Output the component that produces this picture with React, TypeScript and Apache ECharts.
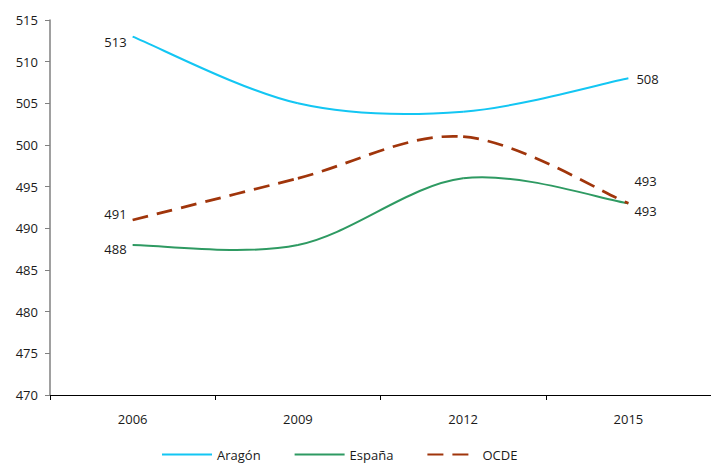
import React, { useEffect, useRef } from "react";
import * as echarts from "echarts";

const categories = ["2006", "2009", "2012", "2015"];
const aragon = [513, 505, 504, 508];
const espana = [488, 488, 496, 493];
const ocde = [491, 496, 501, 493];

const FONT = "'Open Sans', 'Noto Sans', sans-serif";

const C_ARAGON = "#13C6F3";
const C_ESPANA = "#2E9A62";
const C_OCDE = "#A0350B";
const OCDE_DASH = [16, 9];

function withLabels(values: number[], lastOffset: number[], firstOffset: number[]) {
  return values.map((v, i) => {
    if (i === 0) {
      return { value: v, label: { show: true, position: "left", distance: 6, offset: firstOffset } };
    }
    if (i === values.length - 1) {
      return { value: v, label: { show: true, position: "right", distance: 8, offset: lastOffset } };
    }
    return { value: v };
  });
}

// Catmull-Rom (Excel-style) smoothed curve drawn segment by segment through the axis scales
function curveSeries(values: number[], color: string, width: number, dash?: number[]) {
  return {
    type: "custom",
    name: "_curve",
    silent: true,
    z: 3,
    data: values.map((v, i) => [i, v]),
    encode: { x: 0, y: 1 },
    renderItem: (params: any, api: any) => {
      const i = params.dataIndex;
      const n = values.length;
      if (i >= n - 1) return null;
      const p = (k: number) => {
        const kk = Math.max(0, Math.min(n - 1, k));
        return api.coord([kk, values[kk]]);
      };
      const p0 = p(i - 1), p1 = p(i), p2 = p(i + 1), p3 = p(i + 2);
      return {
        type: "bezierCurve",
        shape: {
          x1: p1[0], y1: p1[1],
          cpx1: p1[0] + (p2[0] - p0[0]) / 6,
          cpy1: p1[1] + (p2[1] - p0[1]) / 6,
          cpx2: p2[0] - (p3[0] - p1[0]) / 6,
          cpy2: p2[1] - (p3[1] - p1[1]) / 6,
          x2: p2[0], y2: p2[1],
        },
        style: { stroke: color, lineWidth: width, fill: null, lineDash: dash || null, lineCap: "butt" },
      };
    },
  };
}

export default function App() {
  const ref = useRef<HTMLDivElement>(null);
  useEffect(() => {
    if (!ref.current) return;
    const chart = echarts.init(ref.current, undefined, { renderer: "svg" });
    const labelStyle = { show: false, color: "#1a1a1a", fontSize: 13, fontFamily: FONT };
    const common = { type: "line", smooth: false, symbol: "circle", symbolSize: 0.01, showSymbol: true, z: 4 };
    chart.setOption({
      animation: false,
      textStyle: { fontFamily: FONT },
      grid: { left: 50, right: 0, top: 20, bottom: 71, containLabel: false },
      legend: {
        bottom: 0,
        left: 156,
        itemWidth: 50,
        itemHeight: 12,
        itemGap: 33,
        itemStyle: { opacity: 0 },
        lineStyle: { opacity: 1 },
        textStyle: { color: "#1a1a1a", fontSize: 13, fontFamily: FONT },
        data: ["Aragón", "España", "OCDE"],
      },
      xAxis: {
        type: "category",
        data: categories,
        boundaryGap: true,
        axisLine: { lineStyle: { color: "#000", width: 1 } },
        axisTick: { show: true, alignWithLabel: false, length: 5, inside: false, lineStyle: { color: "#000" } },
        axisLabel: { color: "#1a1a1a", fontSize: 13, margin: 17, fontFamily: FONT, interval: 0 },
        splitLine: { show: false },
      },
      yAxis: {
        type: "value",
        min: 470,
        max: 515,
        interval: 5,
        axisLine: { show: true, lineStyle: { color: "#808080", width: 1.5 } },
        axisTick: { show: true, length: 5, lineStyle: { color: "#808080" } },
        axisLabel: { color: "#1a1a1a", fontSize: 13, margin: 12, fontFamily: FONT },
        splitLine: { show: false },
      },
      series: [
        curveSeries(aragon, C_ARAGON, 2),
        curveSeries(espana, C_ESPANA, 2),
        curveSeries(ocde, C_OCDE, 2.75, OCDE_DASH),
        {
          ...common,
          name: "Aragón",
          lineStyle: { color: C_ARAGON, width: 2, opacity: 0 },
          itemStyle: { color: C_ARAGON },
          label: labelStyle,
          data: withLabels(aragon, [0, 1], [0, 5]),
        },
        {
          ...common,
          name: "España",
          lineStyle: { color: C_ESPANA, width: 2, opacity: 0 },
          itemStyle: { color: C_ESPANA },
          label: labelStyle,
          data: withLabels(espana, [-2, 8], [0, 4]),
        },
        {
          ...common,
          name: "OCDE",
          lineStyle: { color: C_OCDE, width: 2.75, type: OCDE_DASH, opacity: 0 },
          itemStyle: { color: C_OCDE },
          label: labelStyle,
          data: withLabels(ocde, [-2, -22], [0, -6]),
        },
      ],
    });
    return () => chart.dispose();
  }, []);
  return <div ref={ref} style={{ width: 711, height: 466, position: "absolute", left: 0, top: 0 }} />;
}
